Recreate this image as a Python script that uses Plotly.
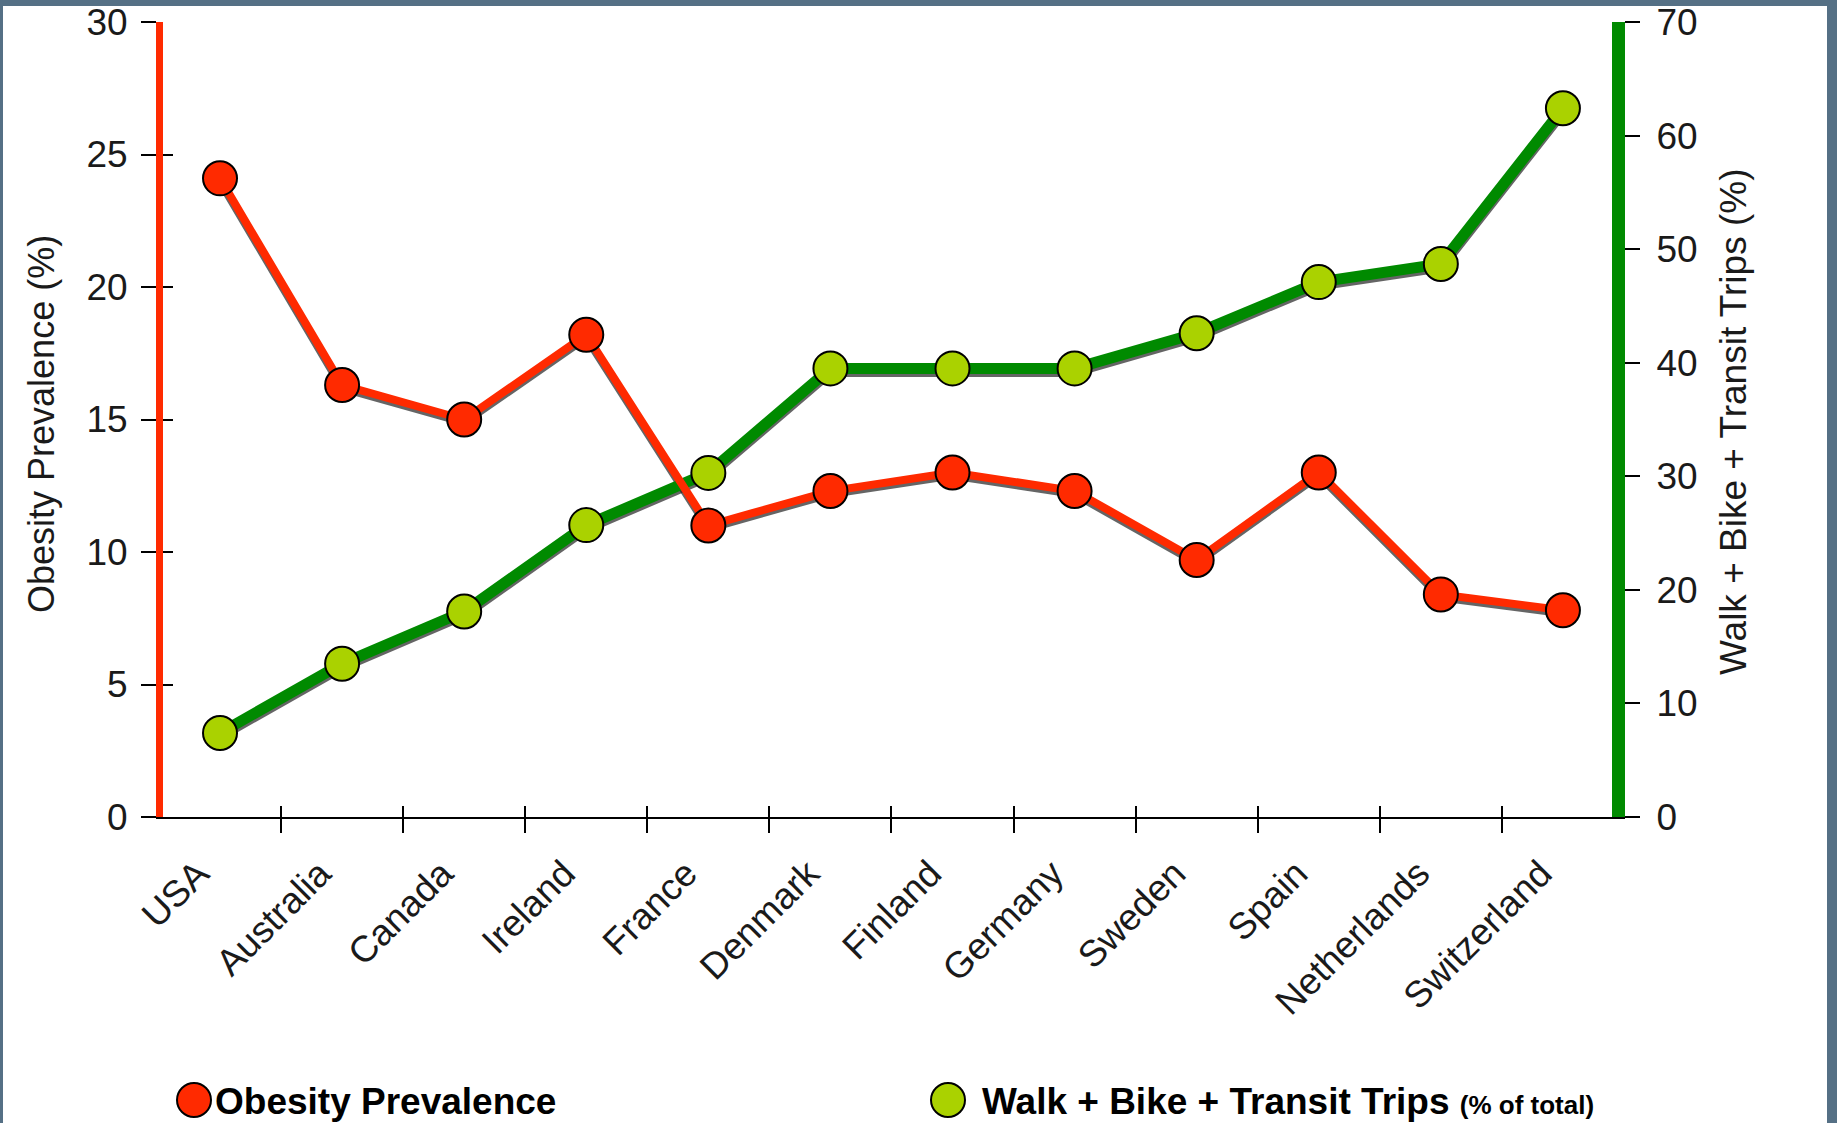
import plotly.graph_objects as go

countries = ["USA", "Australia", "Canada", "Ireland", "France", "Denmark",
             "Finland", "Germany", "Sweden", "Spain", "Netherlands", "Switzerland"]
obesity = [24.1, 16.3, 15.0, 18.2, 11.0, 12.3, 13.0, 12.3, 9.7, 13.0, 8.4, 7.8]
active_trips = [7.4, 13.5, 18.1, 25.7, 30.3, 39.5, 39.5, 39.5, 42.6, 47.1, 48.7, 62.4]
left_ticks = [0, 5, 10, 15, 20, 25, 30]
right_ticks = [0, 10, 20, 30, 40, 50, 60, 70]

RED = "#ff2a00"
GREEN_LINE = "#008a00"
GREEN_MARK = "#aad200"
FRAME = "#557085"
FONT = "Liberation Sans, Arial, Helvetica, sans-serif"

W, H = 1837, 1123
L, R, T, B = 163, 1612, 22, 817
PW, PH = R - L, B - T

def px(x):
    return (x - L) / PW

def py(y):
    return (B - y) / PH

xr = [-0.467, 11.402]
sh_l = 3.0 * 30 / PH
sh_r = 3.0 * 70 / PH
SHADOW = "rgba(35,35,35,0.7)"

fig = go.Figure()
# axis carriers (draw nothing) so that the styled axes are rendered
for xa, ya, vals in [("x", "y", obesity), ("x", "y2", active_trips),
                     ("x", "y3", obesity), ("x2", "y", obesity)]:
    fig.add_trace(go.Scatter(x=countries, y=vals, mode="none", xaxis=xa, yaxis=ya,
                             hoverinfo="skip", showlegend=False))
fig.add_trace(go.Scatter(x=countries, y=obesity, mode="lines", xaxis="x", yaxis="y4",
                         line=dict(color=SHADOW, width=8), hoverinfo="skip", showlegend=False))
fig.add_trace(go.Scatter(x=countries, y=active_trips, mode="lines", xaxis="x", yaxis="y5",
                         line=dict(color=SHADOW, width=11), hoverinfo="skip", showlegend=False))
fig.add_trace(go.Scatter(x=countries, y=active_trips, mode="lines+markers", xaxis="x", yaxis="y6",
                         name="Walk + Bike + Transit Trips (% of total)",
                         line=dict(color=GREEN_LINE, width=11),
                         marker=dict(size=34, color=GREEN_MARK, line=dict(color="black", width=2)),
                         showlegend=False))
fig.add_trace(go.Scatter(x=countries, y=obesity, mode="lines+markers", xaxis="x", yaxis="y7",
                         name="Obesity Prevalence",
                         line=dict(color=RED, width=8),
                         marker=dict(size=34, color=RED, line=dict(color="black", width=2)),
                         showlegend=False))

tickfont = dict(family=FONT, size=37, color="#1a1a1a")
hidden = dict(visible=False, showgrid=False, zeroline=False, automargin=False)

fig.update_layout(
    width=W, height=H,
    margin=dict(l=L, r=W - R, t=T, b=H - B, pad=0, autoexpand=False),
    paper_bgcolor=FRAME,
    plot_bgcolor="rgba(0,0,0,0)",
    showlegend=False,
    xaxis=dict(type="category", range=xr, tickson="boundaries", automargin=False,
               ticks="outside", ticklen=14, tickwidth=2, tickcolor="black",
               showline=True, linecolor="black", linewidth=2,
               tickangle=-45, tickfont=tickfont, showgrid=False, zeroline=False,
               ticklabelstandoff=18, ticklabelshift=-22),
    xaxis2=dict(type="category", overlaying="x", anchor="y", side="bottom", range=xr,
                tickson="boundaries", automargin=False,
                ticks="inside", ticklen=11, tickwidth=2, tickcolor="black",
                showticklabels=False, showline=False, showgrid=False, zeroline=False),
    yaxis=dict(range=[0, 30], tickmode="array", tickvals=left_ticks, automargin=False,
               ticks="outside", ticklen=15, tickwidth=2, tickcolor="black",
               showline=True, linecolor=RED, linewidth=7, tickfont=tickfont,
               showgrid=False, zeroline=False, ticklabelstandoff=6),
    yaxis2=dict(overlaying="y", side="right", anchor="x", range=[0, 70], tickmode="array",
                tickvals=right_ticks, ticks="outside", ticklen=15, tickwidth=2, tickcolor="black",
                showline=True, linecolor=GREEN_LINE, linewidth=13, tickfont=tickfont,
                showgrid=False, zeroline=False, automargin=False, ticklabelstandoff=9),
    yaxis3=dict(overlaying="y", side="left", anchor="x", range=[0, 30], tickmode="array",
                tickvals=left_ticks, ticks="inside", ticklen=10, tickwidth=2, tickcolor="black",
                showticklabels=False, showline=False, showgrid=False, zeroline=False,
                automargin=False),
    yaxis4=dict(overlaying="y", anchor="x", range=[sh_l, 30 + sh_l], **hidden),
    yaxis5=dict(overlaying="y", anchor="x", range=[sh_r, 70 + sh_r], **hidden),
    yaxis6=dict(overlaying="y", anchor="x", range=[0, 70], **hidden),
    yaxis7=dict(overlaying="y", anchor="x", range=[0, 30], **hidden),
)

# white page panel inside the slate frame
fig.add_shape(type="rect", xref="paper", yref="paper", layer="below",
              x0=px(3), x1=px(1827), y0=py(1140), y1=py(6),
              fillcolor="white", line=dict(width=0))

# axis titles
fig.add_annotation(text="Obesity Prevalence (%)", xref="paper", yref="paper",
                   x=px(41), y=py(424), textangle=-90, showarrow=False,
                   xanchor="center", yanchor="middle",
                   font=dict(family=FONT, size=36, color="#1a1a1a"))
fig.add_annotation(text="Walk + Bike + Transit Trips (%)", xref="paper", yref="paper",
                   x=px(1733), y=py(422), textangle=-90, showarrow=False,
                   xanchor="center", yanchor="middle",
                   font=dict(family=FONT, size=37, color="#1a1a1a"))

# legend
for cx, col in [(194, RED), (948, GREEN_MARK)]:
    fig.add_shape(type="circle", xref="paper", yref="paper",
                  xsizemode="pixel", ysizemode="pixel",
                  xanchor=px(cx), yanchor=py(1100),
                  x0=-17, x1=17, y0=-17, y1=17,
                  fillcolor=col, line=dict(color="black", width=2))
fig.add_annotation(text="<b>Obesity Prevalence</b>", xref="paper", yref="paper",
                   x=px(213), y=py(1101), xanchor="left", yanchor="middle", showarrow=False,
                   font=dict(family=FONT, size=37, color="black"))
fig.add_annotation(text="<b>Walk + Bike + Transit Trips <span style='font-size:26px'>(% of total)</span></b>",
                   xref="paper", yref="paper",
                   x=px(980), y=py(1101), xanchor="left", yanchor="middle", showarrow=False,
                   font=dict(family=FONT, size=37, color="black"))

fig.write_html("out.html")
